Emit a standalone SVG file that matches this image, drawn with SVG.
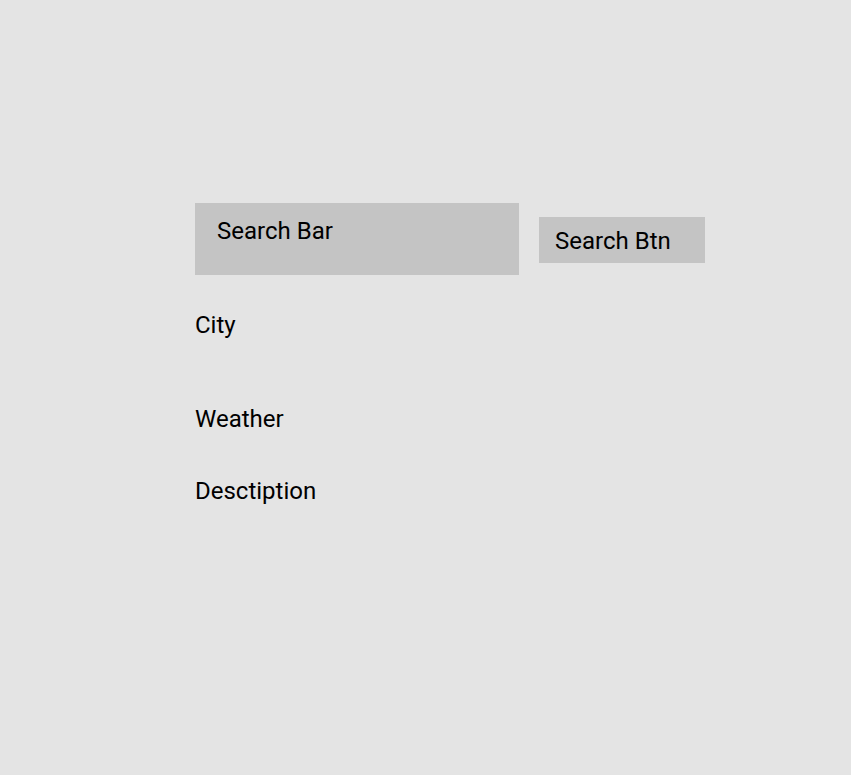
<svg xmlns="http://www.w3.org/2000/svg" width="851" height="775" viewBox="0 0 851 775">
<style>
.box{fill:#c4c4c4}
.t{font-family:Roboto,"Liberation Sans",sans-serif;font-size:24px;fill:#000}
</style>
<rect width="851" height="775" fill="#e4e4e4"/>
<g id="search-bar"><rect class="box" x="195" y="203" width="324" height="72"/><text class="t" x="217" y="239">Search Bar</text></g>
<g id="search-btn"><rect class="box" x="539" y="217" width="166" height="46"/><text class="t" x="555" y="249">Search Btn</text></g>
<g id="city"><text class="t" x="195" y="333">City</text></g>
<g id="weather"><text class="t" x="195" y="427">Weather</text></g>
<g id="description"><text class="t" x="195" y="499">Desctiption</text></g>
<g id="connectors"></g>
</svg>
